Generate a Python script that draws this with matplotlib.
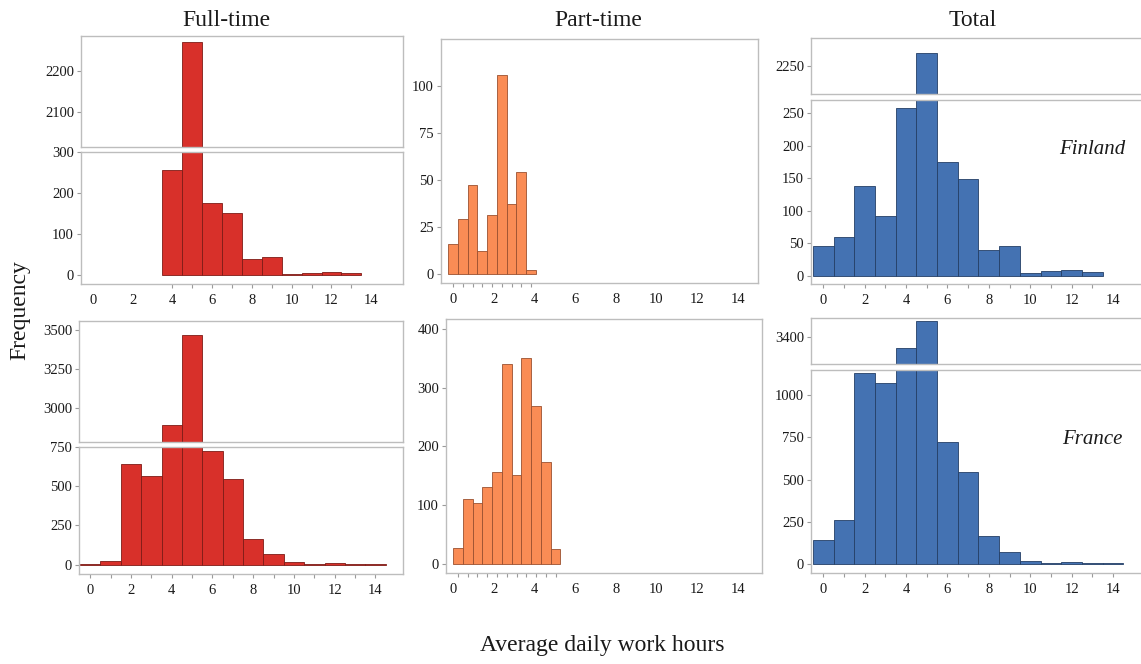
import matplotlib
matplotlib.use("Agg")
import matplotlib.pyplot as plt

# ---- data: counts per bin of average daily work hours ----
hours_int_fi_ft = [4, 5, 6, 7, 8, 9, 10, 11, 12, 13]
finland_fulltime = [257, 2270, 176, 150, 40, 45, 3, 6, 7, 4]

hours_fi_pt = [0.0, 0.48, 0.96, 1.44, 1.92, 2.40, 2.88, 3.36, 3.84]
finland_parttime = [16, 29, 47, 12, 31, 106, 37, 54, 2]

hours_fi_total = list(range(0, 14))
finland_total = [45, 59, 137, 91, 257, 2270, 175, 149, 40, 45, 4, 7, 8, 5]

hours_fr_ft = list(range(0, 15))
france_fulltime = [6, 23, 640, 568, 2892, 3468, 724, 547, 165, 68, 19, 6, 11, 4, 6]

hours_fr_pt = [0.24, 0.72, 1.20, 1.68, 2.16, 2.64, 3.12, 3.60, 4.08, 4.56, 5.04]
france_parttime = [27, 111, 104, 131, 156, 340, 151, 351, 268, 174, 25]

hours_fr_total = list(range(0, 15))
france_total = [144, 258, 1132, 1071, 3337, 3499, 720, 547, 165, 69, 20, 8, 10, 6, 8]

column_titles = ["Full-time", "Part-time", "Total"]
country_labels = ["Finland", "France"]
x_labels = list(range(0, 16, 2))

RED, RED_EDGE = "#D8302A", "#7E1B16"
ORANGE, ORANGE_EDGE = "#FA8C55", "#9A5030"
BLUE, BLUE_EDGE = "#4472B2", "#243F66"
SPINE = "#bdbdbd"
TEXT = "#1a1a1a"

plt.rcParams["font.family"] = ["Liberation Serif", "DejaVu Serif"]

W, H = 1141, 664
fig = plt.figure(figsize=(W / 100, H / 100), dpi=100)


def px_axes(x0, y0, x1, y1):
    return fig.add_axes([x0 / W, 1 - y1 / H, (x1 - x0) / W, (y1 - y0) / H])


def style(ax, xlim, ylim, yticks, centers, show_x=True):
    ax.set_xlim(*xlim)
    ax.set_ylim(*ylim)
    for s in ax.spines.values():
        s.set_color(SPINE)
        s.set_linewidth(1.0)
    ax.set_yticks(yticks)
    ax.tick_params(axis="y", length=3, width=0.8, color="#9a9a9a",
                   labelsize=10.5, labelcolor=TEXT, pad=2)
    if show_x:
        ax.xaxis.remove_overlapping_locs = False
        ax.set_xticks(x_labels)
        ax.set_xticks(centers, minor=True)
        ax.tick_params(axis="x", which="major", length=0, labelsize=10.5,
                       labelcolor=TEXT, pad=7)
        ax.tick_params(axis="x", which="minor", length=3, width=0.8,
                       color="#9a9a9a")
    else:
        ax.tick_params(axis="x", which="both", bottom=False, labelbottom=False)


def bars(ax, centers, values, width, color, edge):
    ax.bar(centers, values, width=width, color=color, edgecolor=edge,
           linewidth=0.6, zorder=2)


# Finland row ---------------------------------------------------------------
ax = px_axes(81, 36, 403, 147)
bars(ax, hours_int_fi_ft, finland_fulltime, 1.0, RED, RED_EDGE)
style(ax, (-0.6, 15.6), (2015, 2285), [2100, 2200], hours_int_fi_ft, show_x=False)
ax = px_axes(81, 152, 403, 284)
bars(ax, hours_int_fi_ft, finland_fulltime, 1.0, RED, RED_EDGE)
style(ax, (-0.6, 15.6), (-22, 300), [0, 100, 200, 300], hours_int_fi_ft)

ax = px_axes(441, 39, 758, 283)
bars(ax, hours_fi_pt, finland_parttime, 0.48, ORANGE, ORANGE_EDGE)
style(ax, (-0.59, 15.0), (-5, 125), [0, 25, 50, 75, 100], hours_fi_pt)

ax = px_axes(811, 38, 1146, 94)
bars(ax, hours_fi_total, finland_total, 1.0, BLUE, BLUE_EDGE)
style(ax, (-0.6, 15.6), (2207, 2294), [2250], hours_fi_total, show_x=False)
ax = px_axes(811, 100, 1146, 284)
bars(ax, hours_fi_total, finland_total, 1.0, BLUE, BLUE_EDGE)
style(ax, (-0.6, 15.6), (-13, 270), [0, 50, 100, 150, 200, 250], hours_fi_total)
ax.text(0.84, 0.73, country_labels[0], transform=ax.transAxes, ha="center",
        va="center", fontsize=15, style="italic", color=TEXT)

# France row ----------------------------------------------------------------
ax = px_axes(79, 321, 403, 442)
bars(ax, hours_fr_ft, france_fulltime, 1.0, RED, RED_EDGE)
style(ax, (-0.55, 15.35), (2785, 3559), [3000, 3250, 3500], hours_fr_ft, show_x=False)
ax = px_axes(79, 447, 403, 574)
bars(ax, hours_fr_ft, france_fulltime, 1.0, RED, RED_EDGE)
style(ax, (-0.55, 15.35), (-59, 750), [0, 250, 500, 750], hours_fr_ft)

ax = px_axes(446, 319, 762, 573)
bars(ax, hours_fr_pt, france_parttime, 0.48, ORANGE, ORANGE_EDGE)
style(ax, (-0.35, 15.2), (-16, 417), [0, 100, 200, 300, 400], hours_fr_pt)

ax = px_axes(811, 318, 1146, 364)
bars(ax, hours_fr_total, france_total, 1.0, BLUE, BLUE_EDGE)
style(ax, (-0.6, 15.6), (3243, 3515), [3400], hours_fr_total, show_x=False)
ax = px_axes(811, 370, 1146, 573)
bars(ax, hours_fr_total, france_total, 1.0, BLUE, BLUE_EDGE)
style(ax, (-0.6, 15.6), (-53, 1148), [0, 250, 500, 750, 1000], hours_fr_total)
ax.text(0.84, 0.66, country_labels[1], transform=ax.transAxes, ha="center",
        va="center", fontsize=15, style="italic", color=TEXT)

# Titles and shared axis labels ---------------------------------------------
for x, t in zip([226, 598, 973], column_titles):
    fig.text(x / W, 1 - 20 / H, t, ha="center", va="center", fontsize=17,
             color=TEXT)
fig.text(20 / W, 1 - 310 / H, "Frequency", rotation=90, ha="center",
         va="center", fontsize=17, color=TEXT)
fig.text(602 / W, 1 - 646 / H, "Average daily work hours", ha="center",
         va="center", fontsize=17, color=TEXT)

fig.savefig("out.png", dpi=100, facecolor="white")
